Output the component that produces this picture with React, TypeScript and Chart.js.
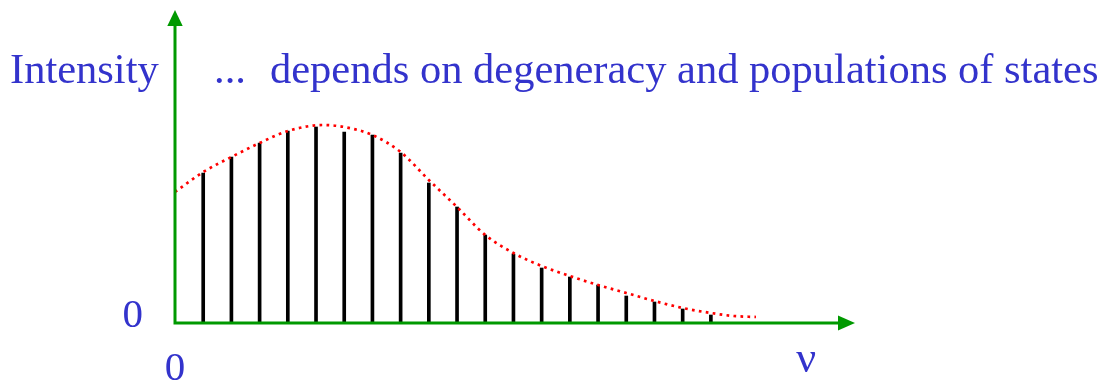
import React, { useEffect, useRef } from "react";
import { Chart, registerables } from "chart.js";

Chart.register(...registerables);

// Line positions (in units of line spacing) and intensities
const linePositions = [1, 2, 3, 4, 5, 6, 7, 8, 9, 10, 11, 12, 13, 14, 15, 16, 17, 18, 19];
const lineIntensities = [150, 166, 180, 192, 196, 191, 188, 170, 140, 116, 88, 69, 55, 46, 38, 27, 21, 14, 8];

// Envelope (dotted red curve)
const envelopeX = [0, 1, 2, 3, 4, 5.25, 6, 7, 8, 9, 10, 11, 12, 13, 14, 15, 16, 17, 18, 19, 19.8, 20.6];
const envelopeY = [131, 151, 166, 180, 192, 198, 196, 188, 171, 143, 116, 88, 70, 57, 47, 38, 30, 22, 15, 10, 7, 6];

const yTickValues = [0];
const yTickLabels = ["0"];
const xTickValues = [0];
const xTickLabels = ["0"];
const nuPosition = 22.38;
const nuLabel = "ν";

const yAxisLabel = "Intensity";
const titleDots = "...";
const titleText = "depends on degeneracy and populations of states";

const X_MAX = 24.11;
const Y_MAX = 313;

const BLUE = "#3333cc";
const GREEN = "#009900";
const FONT = "'Liberation Serif', 'Times New Roman', serif";

function zeroPad(s: any) {
  s.paddingTop = 0;
  s.paddingBottom = 0;
  s.paddingLeft = 0;
  s.paddingRight = 0;
}

export default function App() {
  const ref = useRef<HTMLCanvasElement | null>(null);

  useEffect(() => {
    const canvas = ref.current;
    if (!canvas) return;

    const overlay = {
      id: "overlay",
      afterDatasetsDraw(chart: any) {
        const ctx = chart.ctx;
        const xs = chart.scales.x;
        const ys = chart.scales.y;
        const x0 = xs.getPixelForValue(0);
        const y0 = ys.getPixelForValue(0);
        const xTip = xs.getPixelForValue(X_MAX);
        const yTip = ys.getPixelForValue(Y_MAX);
        ctx.save();
        ctx.strokeStyle = GREEN;
        ctx.fillStyle = GREEN;
        ctx.lineWidth = 3;
        ctx.beginPath();
        ctx.moveTo(x0, y0 + 1.5);
        ctx.lineTo(x0, yTip + 14);
        ctx.moveTo(x0 - 1.5, y0);
        ctx.lineTo(xTip - 15, y0);
        ctx.stroke();
        // arrow heads
        ctx.beginPath();
        ctx.moveTo(x0, yTip);
        ctx.lineTo(x0 - 7.7, yTip + 16);
        ctx.lineTo(x0 + 7.7, yTip + 16);
        ctx.closePath();
        ctx.fill();
        ctx.beginPath();
        ctx.moveTo(xTip, y0);
        ctx.lineTo(xTip - 17, y0 - 7.5);
        ctx.lineTo(xTip - 17, y0 + 7.5);
        ctx.closePath();
        ctx.fill();
        ctx.restore();
      },
      afterDraw(chart: any) {
        const ctx = chart.ctx;
        const xs = chart.scales.x;
        ctx.save();
        ctx.fillStyle = BLUE;
        ctx.textBaseline = "alphabetic";
        ctx.font = `42.5px ${FONT}`;
        ctx.textAlign = "left";
        ctx.fillText(yAxisLabel, 10, 83);
        ctx.fillText(titleDots, 214, 83);
        ctx.fillText(titleText, 270, 83);
        ctx.textAlign = "center";
        ctx.font = `44px ${FONT}`;
        ctx.fillText(nuLabel, xs.getPixelForValue(nuPosition), 372);
        ctx.restore();
      },
    };

    const chart = new Chart(canvas, {
      type: "bar",
      data: {
        datasets: [
          {
            type: "line",
            data: envelopeX.map((x, i) => ({ x, y: envelopeY[i] })),
            borderColor: "#ff0000",
            borderWidth: 2.7,
            borderDash: [2.7, 4.3],
            borderCapStyle: "butt",
            pointRadius: 0,
            fill: false,
            cubicInterpolationMode: "monotone",
          } as any,
          {
            type: "bar",
            data: linePositions.map((x, i) => ({ x, y: lineIntensities[i] })),
            backgroundColor: "#000000",
            barThickness: 3,
          } as any,
        ],
      },
      options: {
        responsive: false,
        animation: false,
        events: [],
        layout: { padding: { top: 10, right: 250, left: 0, bottom: 0 } },
        plugins: {
          legend: { display: false },
          tooltip: { enabled: false },
          title: { display: false },
        },
        scales: {
          x: {
            type: "linear",
            offset: false,
            min: 0,
            max: X_MAX,
            grid: { display: false, drawTicks: false },
            border: { display: false },
            afterFit: (s: any) => {
              s.height = 59;
              zeroPad(s);
            },
            afterBuildTicks: (s: any) => {
              s.ticks = xTickValues.map((v) => ({ value: v }));
            },
            ticks: {
              color: BLUE,
              font: { family: FONT, size: 41 },
              padding: 22,
              maxRotation: 0,
              autoSkip: false,
              callback: (v: any) => {
                const i = xTickValues.indexOf(Number(v));
                return i >= 0 ? xTickLabels[i] : "";
              },
            },
          },
          y: {
            type: "linear",
            min: 0,
            max: Y_MAX,
            grid: { display: false, drawTicks: false },
            border: { display: false },
            afterFit: (s: any) => {
              s.width = 175;
              zeroPad(s);
            },
            afterBuildTicks: (s: any) => {
              s.ticks = yTickValues.map((v) => ({ value: v }));
            },
            ticks: {
              color: BLUE,
              font: { family: FONT, size: 41 },
              padding: 32,
              labelOffset: -7,
              autoSkip: false,
              callback: (v: any) => {
                const i = yTickValues.indexOf(Number(v));
                return i >= 0 ? yTickLabels[i] : "";
              },
            },
          },
        },
      },
      plugins: [overlay],
    });

    return () => chart.destroy();
  }, []);

  return (
    <div style={{ position: "fixed", left: 0, top: 0, width: 1105, height: 382, background: "#fff" }}>
      <canvas ref={ref} width={1105} height={382} style={{ width: 1105, height: 382 }} />
    </div>
  );
}
